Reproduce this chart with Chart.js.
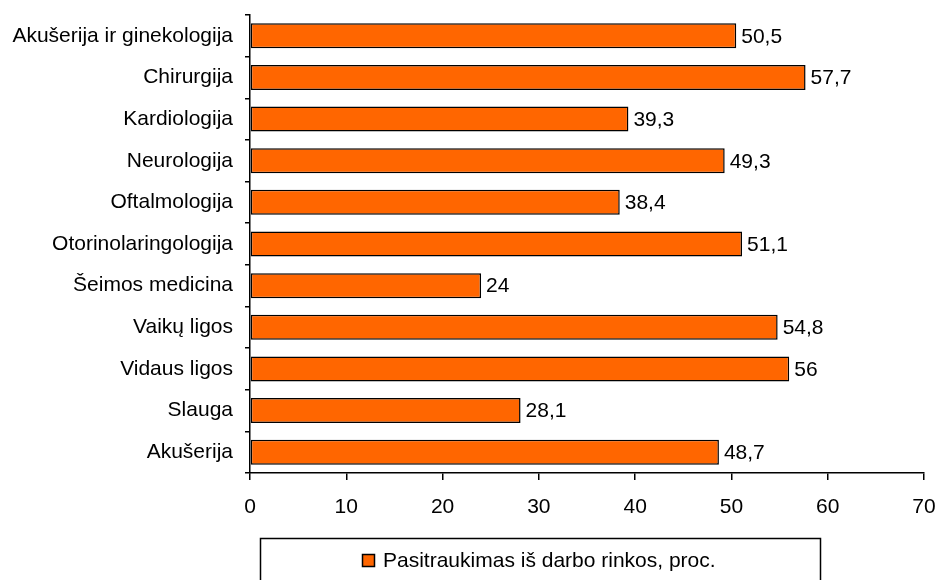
<!DOCTYPE html>
<html>
<head>
<meta charset="utf-8">
<script src="https://cdn.jsdelivr.net/npm/chart.js@4"></script>
<style>
  html, body { margin: 0; padding: 0; background: #fff; }
  #wrap { width: 938px; height: 580px; }
</style>
</head>
<body>
<div id="wrap"><canvas id="chart" width="938" height="580"></canvas></div>
<script>
// duomenys
const categories = [
    'Akušerija ir ginekologija', 'Chirurgija', 'Kardiologija', 'Neurologija',
    'Oftalmologija', 'Otorinolaringologija', 'Šeimos medicina', 'Vaikų ligos',
    'Vidaus ligos', 'Slauga', 'Akušerija'
];
const values = [50.5, 57.7, 39.3, 49.3, 38.4, 51.1, 24, 54.8, 56, 28.1, 48.7];
const seriesName = 'Pasitraukimas iš darbo rinkos, proc.';
const xTicks = [0, 10, 20, 30, 40, 50, 60, 70];

const FONT = 'Liberation Sans, Arial, sans-serif';
const FSIZE = 21;
const ORANGE = '#FF6600';

// reikšmės prie stulpelių
const valueLabels = {
    id: 'valueLabels',
    afterDatasetsDraw(chart) {
        const ctx = chart.ctx;
        const meta = chart.getDatasetMeta(0);
        ctx.save();
        ctx.font = FSIZE + 'px ' + FONT;
        ctx.fillStyle = '#000';
        ctx.textAlign = 'left';
        ctx.textBaseline = 'middle';
        meta.data.forEach((bar, i) => {
            ctx.fillText(String(values[i]).replace('.', ','), bar.x + 5, bar.y + 1);
        });
        ctx.restore();
    }
};

// legenda rėmelyje
const boxLegend = {
    id: 'boxLegend',
    afterDraw(chart) {
        const ctx = chart.ctx;
        ctx.save();
        ctx.strokeStyle = '#000';
        ctx.lineWidth = 1.5;
        ctx.strokeRect(260.5, 538.5, 560, 60);
        ctx.fillStyle = ORANGE;
        ctx.fillRect(362, 554, 13, 13);
        ctx.strokeRect(362.5, 554.5, 12, 12);
        ctx.fillStyle = '#000';
        ctx.font = FSIZE + 'px ' + FONT;
        ctx.textBaseline = 'middle';
        ctx.fillText(seriesName, 383, 561);
        ctx.restore();
    }
};

new Chart(document.getElementById('chart'), {
    type: 'bar',
    data: {
        labels: categories,
        datasets: [{
            label: seriesName,
            data: values,
            backgroundColor: ORANGE,
            borderColor: '#000',
            borderWidth: 1.5,
            borderSkipped: false,
            categoryPercentage: 1,
            barPercentage: 0.6
        }]
    },
    options: {
        indexAxis: 'y',
        responsive: false,
        animation: false,
        layout: { padding: { top: 15, right: 14, left: 0, bottom: 0 } },
        plugins: {
            legend: { display: false },
            tooltip: { enabled: false }
        },
        scales: {
            x: {
                min: 0,
                max: 70,
                afterBuildTicks: axis => { axis.ticks = xTicks.map(v => ({ value: v })); },
                afterFit: axis => {
                    axis.height = 107;
                    axis.paddingLeft = 0;
                    axis.paddingRight = 0;
                },
                border: { color: '#000', width: 1.5 },
                grid: { drawOnChartArea: false, color: '#000', tickLength: 7, lineWidth: 1.5 },
                ticks: { color: '#000', font: { family: FONT, size: FSIZE }, padding: 15, maxRotation: 0 }
            },
            y: {
                afterFit: axis => {
                    axis.width = 250;
                    axis.paddingTop = 0;
                    axis.paddingBottom = 0;
                },
                border: { color: '#000', width: 1.5 },
                grid: { drawOnChartArea: false, color: '#000', tickLength: 5, lineWidth: 1.5, offset: true },
                ticks: { color: '#000', font: { family: FONT, size: FSIZE }, padding: 12 }
            }
        }
    },
    plugins: [valueLabels, boxLegend]
});
</script>
</body>
</html>
